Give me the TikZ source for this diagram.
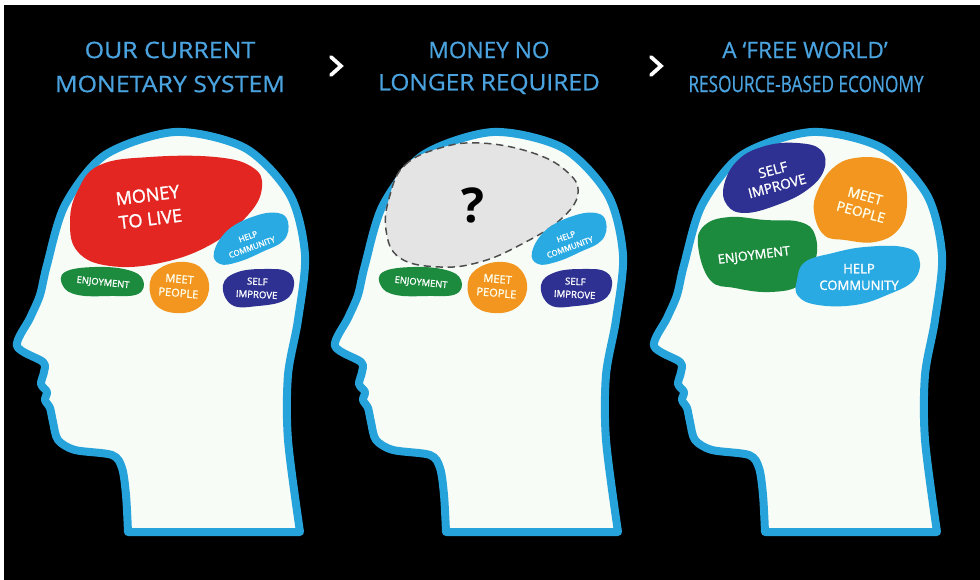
\documentclass[tikz,border=0pt]{standalone}
\usepackage{fontspec}
\setmainfont{Open Sans}
\newfontfamily\titlefont{Open Sans}[FakeBold=0.7]
\newfontfamily\labelfont{Open Sans}[FakeBold=1.4]
\definecolor{bg}{HTML}{000000}
\definecolor{skyline}{HTML}{27A3DC}
\definecolor{skin}{HTML}{F7FCF7}
\definecolor{titleblue}{HTML}{4AA3DF}
\definecolor{moneyred}{HTML}{E42622}
\definecolor{joygreen}{HTML}{1C8B3D}
\definecolor{meetorange}{HTML}{F2961F}
\definecolor{helpblue}{HTML}{2AAAE2}
\definecolor{selfblue}{HTML}{2E3192}
\definecolor{voidgray}{HTML}{E4E4E4}

% head silhouette (profile facing left), drawn in pixel-like units
\newcommand\headoutline{%
  \filldraw[headstyle] plot[smooth, tension=0.5] coordinates {
    (128,532) (126,495) (122,468) (112,455) (75,450) (58,440) (53,422)
    (50,408) (45,400) (47,392) (41,384) (44,372) (43,362) (17,346)
    (30,318) (40,295) (47,265) (65,205) (105,155) (175,132) (245,148)
    (290,195) (305,255) (298,320) (288,375) (288,440) (300,532)} -- cycle;}

% the four small regions shared by the first two heads
\newcommand\smallregions[1]{%
  \fill[joygreen] plot[smooth cycle, tension=0.7] coordinates {
    (65,272) (95,267) (128,270) (143,280) (138,294) (110,296) (78,295) (63,286)};
  \node[lbl, font=\labelfont\fontsize{7}{8}\selectfont, rotate=-6] (#1joy) at (103,283) {ENJOYMENT};
  \fill[meetorange] plot[smooth cycle, tension=0.7] coordinates {
    (150,282) (162,267) (185,262) (203,270) (209,290) (198,308) (175,313) (155,304)};
  \node[lbl, text=cream, font=\labelfont\fontsize{8.3}{10.5}\selectfont, rotate=-5] (#1meet) at (179,286) {MEET\\PEOPLE};
  \fill[helpblue] plot[smooth cycle, tension=0.7] coordinates {
    (214,252) (228,230) (255,216) (278,213) (288,222) (284,240) (262,252) (238,262) (220,264)};
  \node[lbl, font=\labelfont\fontsize{6}{8.5}\selectfont, rotate=20] (#1help) at (250,242) {HELP\\COMMUNITY};
  \fill[selfblue] plot[smooth cycle, tension=0.7] coordinates {
    (223,285) (238,272) (268,269) (288,272) (294,285) (285,300) (258,306) (232,305)};
  \node[lbl, font=\labelfont\fontsize{7.2}{9.8}\selectfont, rotate=-3] (#1self) at (257,288) {SELF\\IMPROVE};
}

\begin{document}
\begin{tikzpicture}[x=0.75pt, y=-0.75pt, line join=round,
  headstyle/.style={fill=skin, draw=skyline, line width=6pt},
  title/.style={text=titleblue, font=\titlefont\fontsize{17}{20}\selectfont, inner sep=0pt},
  lbl/.style={text=white, align=center, inner sep=0pt},
  chevron/.style={draw=white, line width=2.8pt, line cap=round, line join=miter}]
\colorlet{cream}{white!92!yellow}

\useasboundingbox (0,0) rectangle (980,580);
\fill[white] (0,0) rectangle (980,580);
\fill[bg] (4,5) rectangle (980,580);

% column titles
\node[title] (t1a) at (170,50) {\scalebox{1.1}[1]{OUR CURRENT}};
\node[title] (t1b) at (170,84) {\scalebox{1.1}[1]{MONETARY SYSTEM}};
\node[title] (t2a) at (489,50) {MONEY NO};
\node[title] (t2b) at (489,84) {\scalebox{1.08}[1]{LONGER REQUIRED}};
\node[title] (t3a) at (805,50) {A ‘FREE WORLD’};
\node[title] (t3b) at (806,84) {\scalebox{0.76}[1]{RESOURCE-BASED ECONOMY}};

% arrows between the stages
\draw[chevron] (331,57) -- (341,66) -- (331,75);
\draw[chevron] (651,57) -- (661,66) -- (651,75);

% stage 1: money dominates
\begin{scope}
  \headoutline
  \fill[moneyred] plot[smooth cycle, tension=0.7] coordinates {
    (78,190) (100,165) (150,157) (215,157) (252,167) (262,187) (248,215)
    (210,245) (160,263) (110,266) (78,252) (70,222)};
  \node[lbl, font=\labelfont\fontsize{13.5}{18}\selectfont, rotate=7] (money) at (149,207) {MONEY\\TO LIVE};
  \smallregions{a}
\end{scope}

% stage 2: the space left by money
\begin{scope}[shift={(318,0)}]
  \headoutline
  \filldraw[fill=voidgray, draw=black!70, line width=1.1pt, dash pattern=on 5.5pt off 3.5pt]
    plot[smooth cycle, tension=0.7] coordinates {
    (72,195) (87,165) (122,148) (162,143) (212,152) (247,170) (260,193)
    (242,220) (202,245) (162,262) (122,267) (82,258) (68,230)};
  \node[text=black, font=\bfseries\fontsize{36}{40}\selectfont, inner sep=0pt] (q) at (155,205) {?};
  \smallregions{b}
\end{scope}

% stage 3: resource-based economy
\begin{scope}[shift={(637,0)}]
  \headoutline
  \fill[selfblue] plot[smooth cycle, tension=0.7] coordinates {
    (87,185) (101,160) (128,146) (160,143) (184,150) (187,170) (170,190)
    (140,205) (108,213) (90,205)};
  \node[lbl, font=\labelfont\fontsize{10.3}{12.5}\selectfont, rotate=15] (cself) at (138,178) {SELF\\IMPROVE};
  \fill[meetorange] plot[smooth cycle, tension=0.7] coordinates {
    (181,190) (196,168) (218,158) (248,160) (265,176) (270,205) (261,230)
    (238,242) (208,240) (187,235) (177,212)};
  \node[lbl, text=cream, font=\labelfont\fontsize{10.3}{12.5}\selectfont, rotate=-15] (cmeet) at (226,204) {MEET\\PEOPLE};
  \fill[joygreen] plot[smooth cycle, tension=0.7] coordinates {
    (61,245) (68,225) (93,217) (128,220) (163,222) (178,235) (178,262)
    (163,285) (133,292) (98,288) (73,280)};
  \node[lbl, font=\labelfont\fontsize{9.6}{12}\selectfont, rotate=7] (cjoy) at (117,256) {ENJOYMENT};
  \fill[helpblue] plot[smooth cycle, tension=0.7] coordinates {
    (160,280) (168,262) (196,253) (228,247) (266,247) (282,258) (277,280)
    (250,295) (218,305) (181,305) (161,296)};
  \node[lbl, font=\labelfont\fontsize{9.8}{12.5}\selectfont] (chelp) at (222,277) {HELP\\COMMUNITY};
\end{scope}
\end{tikzpicture}
\end{document}
